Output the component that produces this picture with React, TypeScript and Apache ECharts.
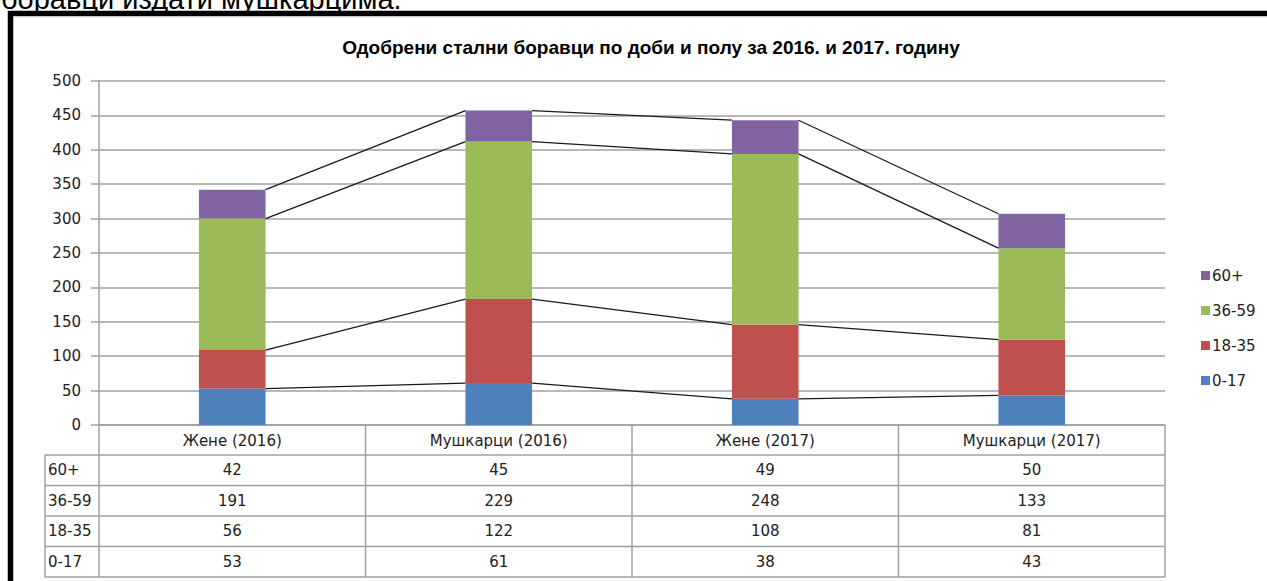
import React, { useEffect, useRef } from "react";
import * as echarts from "echarts";

const categories = ["Жене (2016)", "Мушкарци (2016)", "Жене (2017)", "Мушкарци (2017)"];
const seriesNames = ["0-17", "18-35", "36-59", "60+"];
const values0_17 = [53, 61, 38, 43];
const values18_35 = [56, 122, 108, 81];
const values36_59 = [191, 229, 248, 133];
const values60 = [42, 45, 49, 50];
const colors = ["#4F81BD", "#C0504D", "#9BBB59", "#8064A2"];
const yMin = 0;
const yMax = 500;
const yInterval = 50;
const titleText = "Одобрени стални боравци по доби и полу за 2016. и 2017. годину";
const topText = "боравци издати мушкарцима.";

const W = 1267;
const H = 581;
const GRID_LEFT = 99;
const GRID_RIGHT = 102;
const GRID_TOP = 81;
const GRID_BOTTOM = 156;
const BAR_FRACTION = 0.25;
const FONT = "DejaVu Sans";
const FS = 15;

export default function App() {
  const ref = useRef<HTMLDivElement>(null);
  useEffect(() => {
    if (!ref.current) return;
    const chart = echarts.init(ref.current, null, { renderer: "svg" });
    const seriesData = [values0_17, values18_35, values36_59, values60];
    const cum: number[][] = [];
    seriesData.forEach((arr, k) => {
      cum.push(arr.map((v, i) => v + (k > 0 ? cum[k - 1][i] : 0)));
    });
    const lineData: number[][] = [];
    cum.forEach((arr) => {
      for (let i = 0; i < arr.length - 1; i++) lineData.push([i, arr[i], arr[i + 1]]);
    });

    const plotW = W - GRID_LEFT - GRID_RIGHT;
    const colW = plotW / categories.length;
    const axisY = H - GRID_BOTTOM;
    const headerH = 30;
    const rowH = 30.5;
    const tableLeft = 45;
    const tableRight = W - GRID_RIGHT;
    const rows = [
      { name: "60+", vals: values60 },
      { name: "36-59", vals: values36_59 },
      { name: "18-35", vals: values18_35 },
      { name: "0-17", vals: values0_17 },
    ];
    const tableBottom = axisY + headerH + rowH * rows.length;
    const lineStyle = { stroke: "#a0a0a0", lineWidth: 1.5 };
    const graphics: any[] = [];
    for (let i = 0; i <= categories.length; i++) {
      const x = GRID_LEFT + i * colW;
      graphics.push({ type: "line", shape: { x1: x, y1: axisY, x2: x, y2: tableBottom }, style: lineStyle, silent: true });
    }
    graphics.push({ type: "line", shape: { x1: tableLeft, y1: axisY + headerH, x2: tableLeft, y2: tableBottom }, style: lineStyle, silent: true });
    for (let r = 0; r <= rows.length; r++) {
      const y = axisY + headerH + r * rowH;
      graphics.push({ type: "line", shape: { x1: tableLeft, y1: y, x2: tableRight, y2: y }, style: lineStyle, silent: true });
    }
    rows.forEach((row, r) => {
      const cy = axisY + headerH + r * rowH + rowH / 2;
      graphics.push({
        type: "text", x: tableLeft + 3, y: cy,
        style: { text: row.name, font: `${FS}px '${FONT}'`, fill: "#222", align: "left", verticalAlign: "middle" },
      });
      row.vals.forEach((v, i) => {
        graphics.push({
          type: "text", x: GRID_LEFT + (i + 0.5) * colW, y: cy,
          style: { text: String(v), font: `${FS}px '${FONT}'`, fill: "#222", align: "center", verticalAlign: "middle" },
        });
      });
    });
    graphics.push({ type: "rect", shape: { x: 10.5, y: 13.5, width: 1400, height: 700 }, style: { fill: "none", stroke: "#000", lineWidth: 5.5 }, silent: true });
    graphics.push({ type: "line", shape: { x1: 13, y1: 16.8, x2: W, y2: 16.8 }, style: { stroke: "#c8c8c8", lineWidth: 1 }, silent: true });
    graphics.push({
      type: "text", x: 1, y: -1,
      style: { text: topText, font: `29px 'Liberation Sans'`, fill: "#000", align: "left", verticalAlign: "middle" },
    });

    const option: any = {
      animation: false,
      backgroundColor: "#fff",
      title: {
        text: titleText,
        left: 646,
        top: 33,
        textAlign: "center",
        textStyle: { fontFamily: "Liberation Sans", fontWeight: "bold", fontSize: 19, color: "#000" },
      },
      legend: {
        orient: "vertical",
        left: 1196,
        top: 263,
        itemWidth: 9,
        itemHeight: 9,
        itemGap: 20,
        icon: "rect",
        data: ["60+", "36-59", "18-35", "0-17"],
        textStyle: { fontFamily: FONT, fontSize: FS, color: "#222", padding: [0, 0, 0, -3] },
      },
      grid: { left: GRID_LEFT, right: GRID_RIGHT, top: GRID_TOP, bottom: GRID_BOTTOM, containLabel: false },
      xAxis: {
        type: "category",
        data: categories,
        axisLine: { lineStyle: { color: "#a0a0a0", width: 1.5 } },
        axisTick: { show: false },
        axisLabel: { fontFamily: FONT, fontSize: FS, color: "#222", margin: 8, interval: 0 },
      },
      yAxis: {
        type: "value",
        min: yMin,
        max: yMax,
        interval: yInterval,
        axisLine: { show: true, lineStyle: { color: "#a0a0a0", width: 1.5 } },
        axisTick: { show: true, length: 8, lineStyle: { color: "#a0a0a0", width: 1.5 } },
        axisLabel: { fontFamily: FONT, fontSize: FS, color: "#222", margin: 18 },
        splitLine: { lineStyle: { color: "#a0a0a0", width: 1.5 } },
      },
      series: [
        ...seriesData.map((arr, k) => ({
          type: "bar",
          name: seriesNames[k],
          stack: "total",
          barWidth: `${BAR_FRACTION * 100}%`,
          data: arr,
          itemStyle: { color: colors[k] },
        })),
        {
          type: "custom",
          name: "seriesLines",
          silent: true,
          z: 5,
          data: lineData,
          encode: { x: 0, y: 1 },
          renderItem: (params: any, api: any) => {
            const i = api.value(0);
            const p1 = api.coord([i, api.value(1)]);
            const p2 = api.coord([i + 1, api.value(2)]);
            const half = (api.size([1, 0])[0] * BAR_FRACTION) / 2;
            return {
              type: "line",
              shape: { x1: p1[0] + half, y1: p1[1], x2: p2[0] - half, y2: p2[1] },
              style: { stroke: "#1a1a1a", lineWidth: 1.3 },
            };
          },
        },
      ],
      graphic: graphics,
    };
    chart.setOption(option);
    return () => chart.dispose();
  }, []);
  return (
    <div
      ref={ref}
      style={{ position: "fixed", left: 0, top: 0, width: W, height: H, background: "#fff" }}
    />
  );
}
